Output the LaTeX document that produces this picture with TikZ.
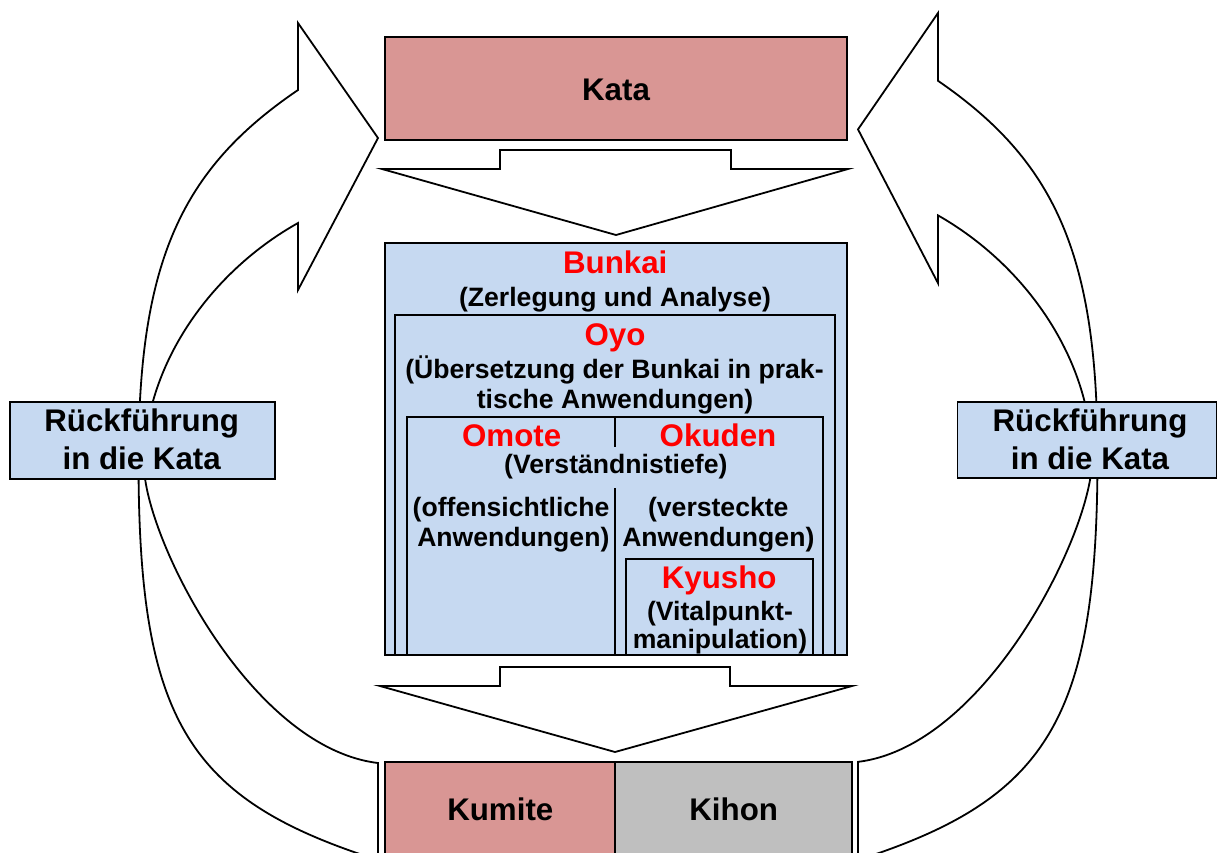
\documentclass[tikz,border=0pt]{standalone}
\usepackage{fontspec}
\setmainfont{Liberation Sans}
\definecolor{katapink}{RGB}{217,150,148}
\definecolor{bunkaiblue}{RGB}{198,217,241}
\definecolor{kihongray}{RGB}{191,191,191}
\definecolor{titlered}{RGB}{255,0,0}
\tikzset{
  box/.style={draw=black, line width=1.7pt, rectangle, inner sep=0pt},
  blockarrow/.style={draw=black, fill=white, line width=1.8pt, line join=miter},
  sepline/.style={draw=black, line width=1.7pt},
  titletext/.style={anchor=base, inner sep=0pt, font=\bfseries\fontsize{31.3}{31.3}\selectfont},
  redtitle/.style={titletext, text=titlered},
  bodytext/.style={anchor=base, inner sep=0pt, font=\bfseries\fontsize{26.6}{26.6}\selectfont},
}
\newcommand{\drawcurvedarrow}{%
  \draw[blockarrow] (298,90) -- (298,23) -- (378,138) -- (298,290) -- (298,223)
    .. controls (210.8,271.9) and (144,365) .. (144,465)
    .. controls (144,535) and (248.9,747.5) .. (378,763)
    -- (378,860)
    .. controls (187.4,799.6) and (138.5,720) .. (138.5,460)
    .. controls (138.5,260) and (182.2,168.7) .. (298,90)
    -- cycle;}
\begin{document}
\begin{tikzpicture}[x=1pt, y=-1pt]
\path[use as bounding box] (0,0) rectangle (1218,852);
\clip (0,0) rectangle (1218,852);

% curved return arrows
\begin{scope}
  \drawcurvedarrow
\end{scope}
\begin{scope}[cm={-1,0,0,1.01195,(1236pt,10.275pt)}]
  \drawcurvedarrow
\end{scope}

% block arrows (down)
\draw[blockarrow] (382,169) -- (500,169) -- (500,150) -- (731,150) -- (731,169) -- (848,169) -- (616,235) -- cycle;
\draw[blockarrow] (380,686) -- (500,686) -- (500,667) -- (730,667) -- (730,686) -- (852,686) -- (615,752) -- cycle;

% Kata
\node[box, fill=katapink, minimum width=462pt, minimum height=103pt] (kata) at (616,88.5) {};
\node[titletext] (katatext) at (616,100) {Kata};

% Bunkai nest
\node[box, fill=bunkaiblue, minimum width=462pt, minimum height=412pt] (bunkai) at (616,449) {};
\node[box, fill=bunkaiblue, minimum width=440pt, minimum height=340pt] (oyo) at (615,485) {};
\node[box, fill=bunkaiblue, minimum width=416pt, minimum height=238pt] (omote) at (615,536) {};
\draw[sepline] (615,417) -- (615,447);
\draw[sepline] (615,488) -- (615,655);
\node[box, fill=bunkaiblue, minimum width=187pt, minimum height=96pt] (kyusho) at (719.5,607) {};
\draw[line width=1.7pt] (385,655) -- (847,655);

\node[redtitle] (bunkaititle) at (615.2,273.3) {Bunkai};
\node[bodytext] (bunkaisub) at (615,306.7) {(Zerlegung und Analyse)};
\node[redtitle] (oyotitle) at (615,345) {Oyo};
\node[bodytext] (oyosub1) at (614.5,378.3) {(Übersetzung der Bunkai in prak-};
\node[bodytext] (oyosub2) at (615,408.3) {tische Anwendungen)};
\node[redtitle] (omotetitle) at (511.7,446.7) {Omote};
\node[redtitle] (okudentitle) at (718,446.7) {Okuden};
\node[bodytext] (tiefe) at (615.8,473.5) {(Verständnistiefe)};
\node[bodytext] (omote1) at (511,516.7) {(offensichtliche};
\node[bodytext] (omote2) at (513.3,546.7) {Anwendungen)};
\node[bodytext] (okuden1) at (718.3,516.7) {(versteckte};
\node[bodytext] (okuden2) at (718.3,546.7) {Anwendungen)};
\node[redtitle] (kyushotitle) at (719.2,588.3) {Kyusho};
\node[bodytext] (kyusho1) at (720,620) {(Vitalpunkt-};
\node[bodytext] (kyusho2) at (720,648.3) {manipulation)};

% Kumite / Kihon
\node[box, fill=katapink, minimum width=230pt, minimum height=110pt] (kumite) at (500,817) {};
\node[box, fill=kihongray, minimum width=237pt, minimum height=110pt] (kihon) at (733.5,817) {};
\node[titletext] (kumitetext) at (500.3,820) {Kumite};
\node[titletext] (kihontext) at (733.7,820) {Kihon};

% Rueckfuehrung boxes
\node[box, fill=bunkaiblue, minimum width=265pt, minimum height=77pt] (rueckL) at (142.5,440.5) {};
\node[titletext] (rueckL1) at (141.7,431.5) {Rückführung};
\node[titletext] (rueckL2) at (141.7,469.5) {in die Kata};
\node[box, fill=bunkaiblue, minimum width=259pt, minimum height=76pt] (rueckR) at (1087,440) {};
\node[titletext] (rueckR1) at (1090,431) {Rückführung};
\node[titletext] (rueckR2) at (1090,469) {in die Kata};
\end{tikzpicture}
\end{document}
